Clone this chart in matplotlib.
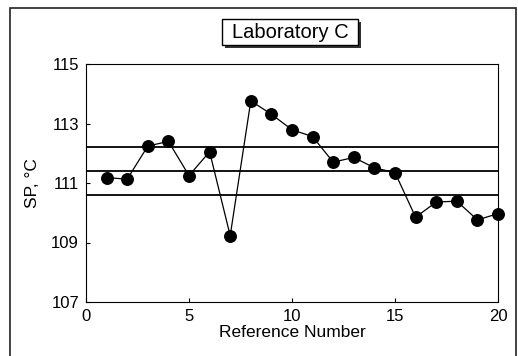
import matplotlib
matplotlib.use("Agg")
import matplotlib.pyplot as plt
from matplotlib.patches import Rectangle

plt.rcParams['font.family'] = ['Liberation Sans', 'DejaVu Sans']

ref_num = list(range(1, 21))
sp_values = [111.18, 111.13, 112.24, 112.40, 111.25, 112.05, 109.23, 113.76, 113.31, 112.79,
             112.56, 111.70, 111.86, 111.51, 111.35, 109.85, 110.36, 110.39, 109.76, 109.97]
limit_lines = [112.2, 111.4, 110.6]
x_ticks = [0, 5, 10, 15, 20]
y_ticks = [107, 109, 111, 113, 115]

W, H = 518, 356
fig = plt.figure(figsize=(W / 100, H / 100), dpi=100)
ax = fig.add_axes([86 / W, 1 - 302 / H, 412 / W, 238 / H])

for v in limit_lines:
    ax.axhline(v, color='black', lw=1.3)
ax.plot(ref_num, sp_values, color='black', lw=0.9, marker='o', ms=8.3,
        mfc='black', mec='black', clip_on=False, zorder=3)

ax.set_xlim(0, 20)
ax.set_ylim(107, 115)
ax.set_xticks(x_ticks)
ax.set_yticks(y_ticks)
ax.tick_params(direction='in', length=3, width=0.8, labelsize=12, pad=5)
for s in ax.spines.values():
    s.set_linewidth(0.8)
ax.set_xlabel('Reference Number', fontsize=12.5, labelpad=1)
ax.set_ylabel('SP, °C', fontsize=12.5, labelpad=8)

# outer frame
fig.patches.append(Rectangle((10 / W, -0.05), 506 / W, 1 - 8 / H + 0.05,
                             transform=fig.transFigure, fill=False, ec='#222222', lw=1.2))

# title box with shadow
bx0, bx1, by0, by1 = 222, 358, 19, 45
fig.patches.append(Rectangle((bx0 / W, 1 - by1 / H), (bx1 - bx0) / W, (by1 - by0) / H,
                             transform=fig.transFigure, fc='white', ec='black', lw=1.0, zorder=2))
fig.patches.append(Rectangle((bx1 / W, 1 - (by1 + 3) / H), 3 / W, (by1 - by0) / H,
                             transform=fig.transFigure, fc='#333333', ec='none', zorder=1))
fig.patches.append(Rectangle(((bx0 + 3) / W, 1 - (by1 + 3) / H), (bx1 - bx0) / W, 3 / H,
                             transform=fig.transFigure, fc='#333333', ec='none', zorder=1))
fig.text((bx0 + bx1) / 2 / W, 1 - 32 / H, 'Laboratory C', ha='center', va='center',
         fontsize=14.5, zorder=3)

fig.savefig('out.png', dpi=100)
